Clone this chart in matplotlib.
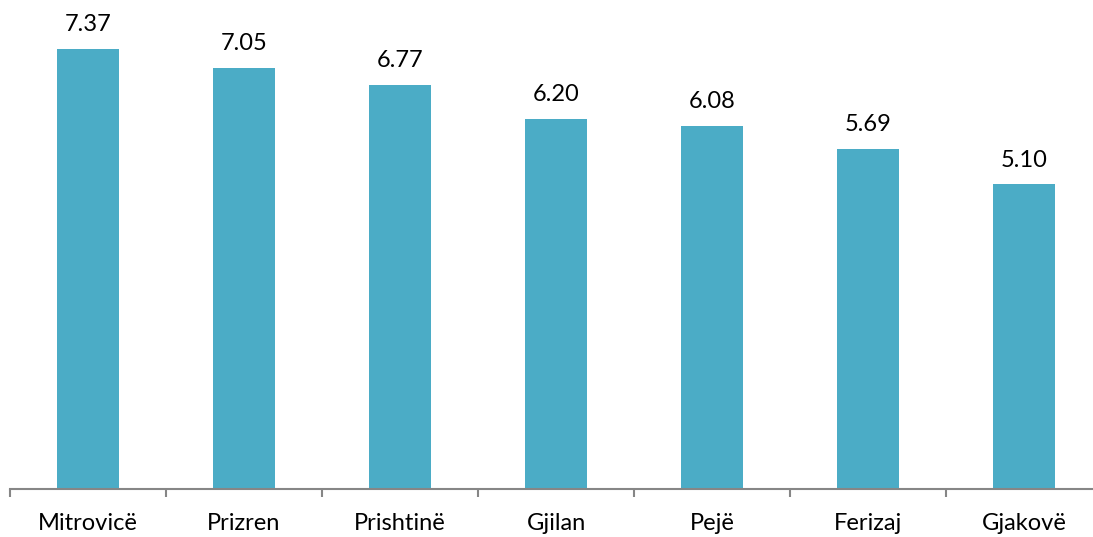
import matplotlib
matplotlib.use("Agg")
import matplotlib.pyplot as plt

categories = ["Mitrovicë", "Prizren", "Prishtinë", "Gjilan", "Pejë", "Ferizaj", "Gjakovë"]
values = [7.37, 7.05, 6.77, 6.20, 6.08, 5.69, 5.10]

plt.rcParams['font.family'] = ['Lato', 'DejaVu Sans']

W, H = 1093, 537
fig = plt.figure(figsize=(W/100, H/100), dpi=100)
ax = fig.add_axes([10/W, (H-489)/H, 1092/W, 489/H])
x = list(range(len(categories)))
ax.bar(x, values, width=0.4, color="#4BACC6")
ax.set_xlim(-0.5, len(categories)-0.5)
ax.set_ylim(0, 8.19)
for xi, v in zip(x, values):
    ax.annotate(f"{v:.2f}", (xi, v), xytext=(0, 10), textcoords="offset points",
                ha="center", va="bottom", fontsize=17)
for s in ["top", "right", "left"]:
    ax.spines[s].set_visible(False)
ax.spines["bottom"].set_color("#868686")
ax.spines["bottom"].set_linewidth(1.5)
ax.set_yticks([])
ax.set_xticks([i-0.5 for i in range(len(categories)+1)], minor=False)
ax.set_xticklabels([])
ax.tick_params(axis="x", length=6, width=1.5, color="#868686")
ax.set_xticks(x, minor=True)
ax.set_xticklabels(categories, minor=True, fontsize=17)
ax.tick_params(axis="x", which="minor", length=0, pad=17)
fig.savefig("out.png", dpi=100)
